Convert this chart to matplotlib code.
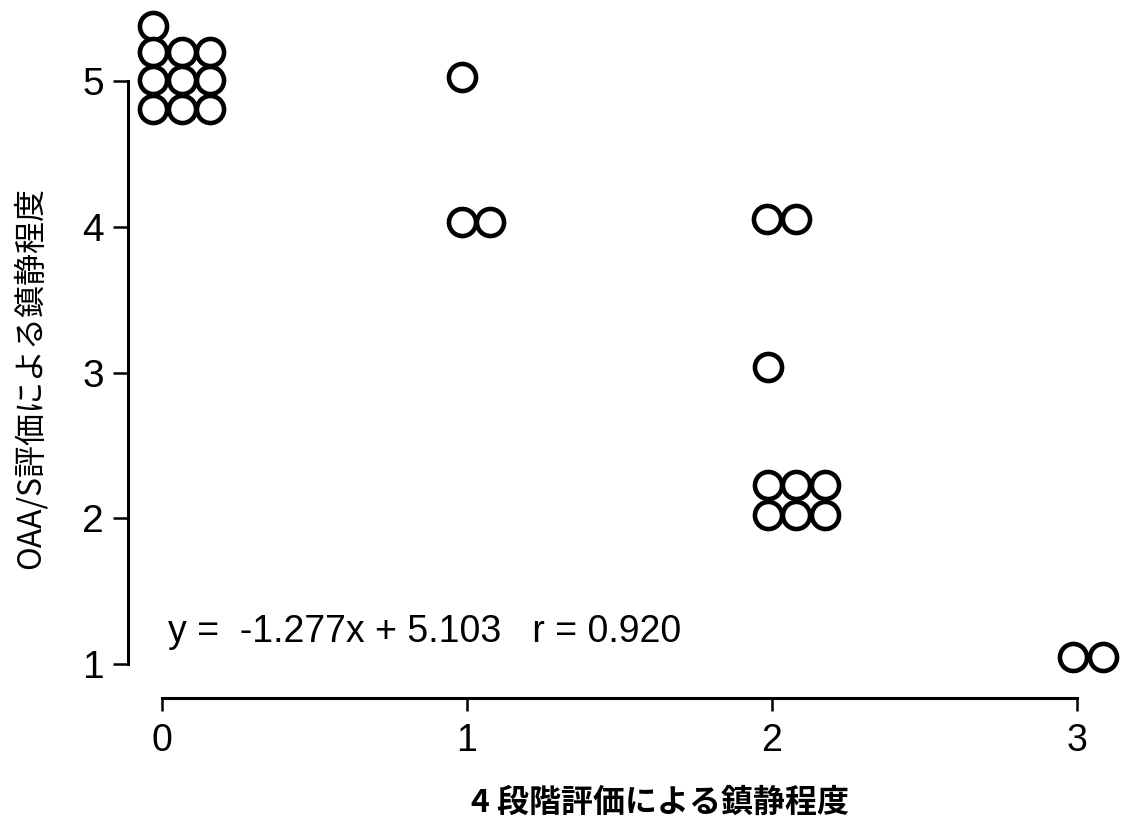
import matplotlib
matplotlib.use("Agg")
import matplotlib.pyplot as plt

# Four-grade sedation score (x) vs OAA/S sedation score (y); overlapping
# observations are spread out slightly so each subject is visible.
grade_x = [-0.03, -0.03, 0.066, 0.157, -0.03, 0.066, 0.157, -0.03, 0.066, 0.157,
           0.984, 0.984, 1.075,
           1.984, 2.079, 1.987,
           1.987, 2.079, 2.174, 1.987, 2.079, 2.174,
           2.987, 3.085]
oaas_y = [5.38, 5.20, 5.20, 5.20, 5.01, 5.01, 5.01, 4.81, 4.81, 4.81,
          5.03, 4.03, 4.03,
          4.05, 4.05, 3.04,
          2.23, 2.23, 2.23, 2.02, 2.02, 2.02,
          1.05, 1.05]

x_ticks = [0, 1, 2, 3]
y_ticks = [1, 2, 3, 4, 5]
slope, intercept, r_value = -1.277, 5.103, 0.920

W, H = 1121, 827
fig = plt.figure(figsize=(W / 100, H / 100), dpi=100)

# axes box in pixels
x0_px, x_unit = 162.0, 305.0
y1_px, y_unit = 664.0, 145.75
xlim = (-0.11, 3.14)
ylim = (0.767, 5.5)
left_px = x0_px + xlim[0] * x_unit
right_px = x0_px + xlim[1] * x_unit
bottom_px = y1_px + (1 - ylim[0]) * y_unit
top_px = y1_px - (ylim[1] - 1) * y_unit
ax = fig.add_axes([left_px / W, 1 - bottom_px / H,
                   (right_px - left_px) / W, (bottom_px - top_px) / H])
ax.set_xlim(*xlim)
ax.set_ylim(*ylim)

ax.plot(grade_x, oaas_y, linestyle="none", marker="o", markersize=19.5,
        markerfacecolor="white", markeredgecolor="black",
        markeredgewidth=3.3, clip_on=False, zorder=3)

for side in ("top", "right"):
    ax.spines[side].set_visible(False)
ax.spines["left"].set_bounds(1, 5)
ax.spines["bottom"].set_bounds(0, 3)
for side in ("left", "bottom"):
    ax.spines[side].set_linewidth(2.2)

tick_font = dict(family=["Liberation Sans", "DejaVu Sans"])
ax.set_xticks(x_ticks)
ax.set_yticks(y_ticks)
ax.set_xticklabels([str(t) for t in x_ticks], fontsize=27, **tick_font)
ax.set_yticklabels([str(t) for t in y_ticks], fontsize=28, **tick_font)
ax.tick_params(axis="x", direction="out", length=9, width=1.8, pad=9)
ax.tick_params(axis="y", direction="out", length=10.5, width=1.8, pad=7)

ax.text(0.02, 1.22,
        f"y =  {slope:.3f}x + {intercept:.3f}   r = {r_value:.3f}",
        fontsize=27, ha="left", va="center", **tick_font)

cjk = ["Noto Sans CJK JP", "DejaVu Sans"]
fig.text(30 / W, 1 - 378 / H, "OAA/S評価による鎮静程度", rotation=90,
         fontsize=23, family=cjk, ha="center", va="center")
fig.text(660 / W, 1 - 803 / H, "4 段階評価による鎮静程度",
         fontsize=23, fontweight="bold", family=cjk, ha="center", va="center")

fig.savefig("out.png", dpi=100, facecolor="white")
